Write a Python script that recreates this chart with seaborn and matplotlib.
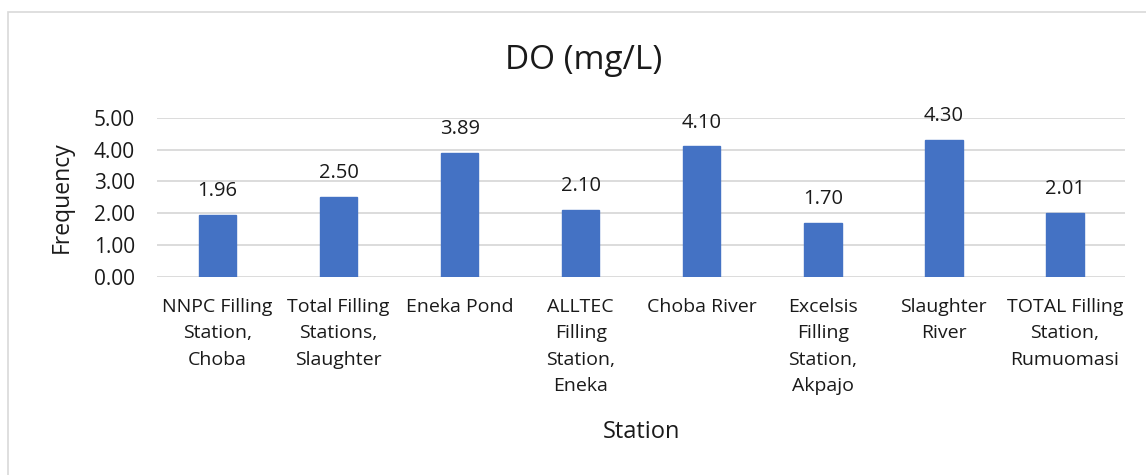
import numpy as np
import pandas as pd
import matplotlib.pyplot as plt
import seaborn as sns
from matplotlib.patches import Rectangle

stations = [
    "NNPC Filling\nStation,\nChoba",
    "Total Filling\nStations,\nSlaughter",
    "Eneka Pond",
    "ALLTEC\nFilling\nStation,\nEneka",
    "Choba River",
    "Excelsis\nFilling\nStation,\nAkpajo",
    "Slaughter\nRiver",
    "TOTAL Filling\nStation,\nRumuomasi",
]
do_values = [1.96, 2.50, 3.89, 2.10, 4.10, 1.70, 4.30, 2.01]
y_ticks = [0, 1, 2, 3, 4, 5]

df = pd.DataFrame({"Station": stations, "DO": do_values})

sns.set_theme(style="white")
plt.rcParams["font.family"] = ["Open Sans", "DejaVu Sans"]
txt = "#1a1a1a"

fig = plt.figure(figsize=(11.46, 4.75), dpi=100)
ax = fig.add_axes([0.137, 0.417, 0.845, 0.335])

sns.barplot(data=df, x="Station", y="DO", color="#4472C4", width=0.31,
            saturation=1, ax=ax, zorder=3, edgecolor="#4472C4")

# data labels
for i, v in enumerate(do_values):
    ax.annotate(f"{v:.2f}", (i, v), xytext=(0, 10), textcoords="offset points",
                ha="center", va="bottom", fontsize=14.5, color=txt)

ax.set_ylim(0, 5)
ax.set_yticks(y_ticks)
ax.set_yticklabels([f"{t:.2f}" for t in y_ticks], fontsize=15, color=txt)
ax.set_xlim(-0.5, len(stations) - 0.5)
ax.set_xticks(range(len(stations)))
ax.set_xticklabels(stations, fontsize=14, color=txt, linespacing=1.6, va="top")
ax.tick_params(axis="y", length=0, pad=16)
ax.tick_params(axis="x", length=0, pad=15)

ax.yaxis.grid(True, color="#D9D9D9", linewidth=1.3, zorder=0)
for s in ax.spines.values():
    s.set_visible(False)

ax.set_xlabel("Station", fontsize=17, color=txt, labelpad=18)
ax.set_ylabel("Frequency", fontsize=16.5, color=txt, labelpad=14)
fig.text(0.509, 0.873, "DO (mg/L)", ha="center", va="center", fontsize=24, color=txt)

# chart area border
fig.patches.append(Rectangle((8 / 1146, -0.05), 1.1, 1 - 12 / 475 + 0.05,
                             transform=fig.transFigure, fill=False,
                             edgecolor="#D9D9D9", linewidth=1.2))

fig.savefig("out.png", dpi=100)
